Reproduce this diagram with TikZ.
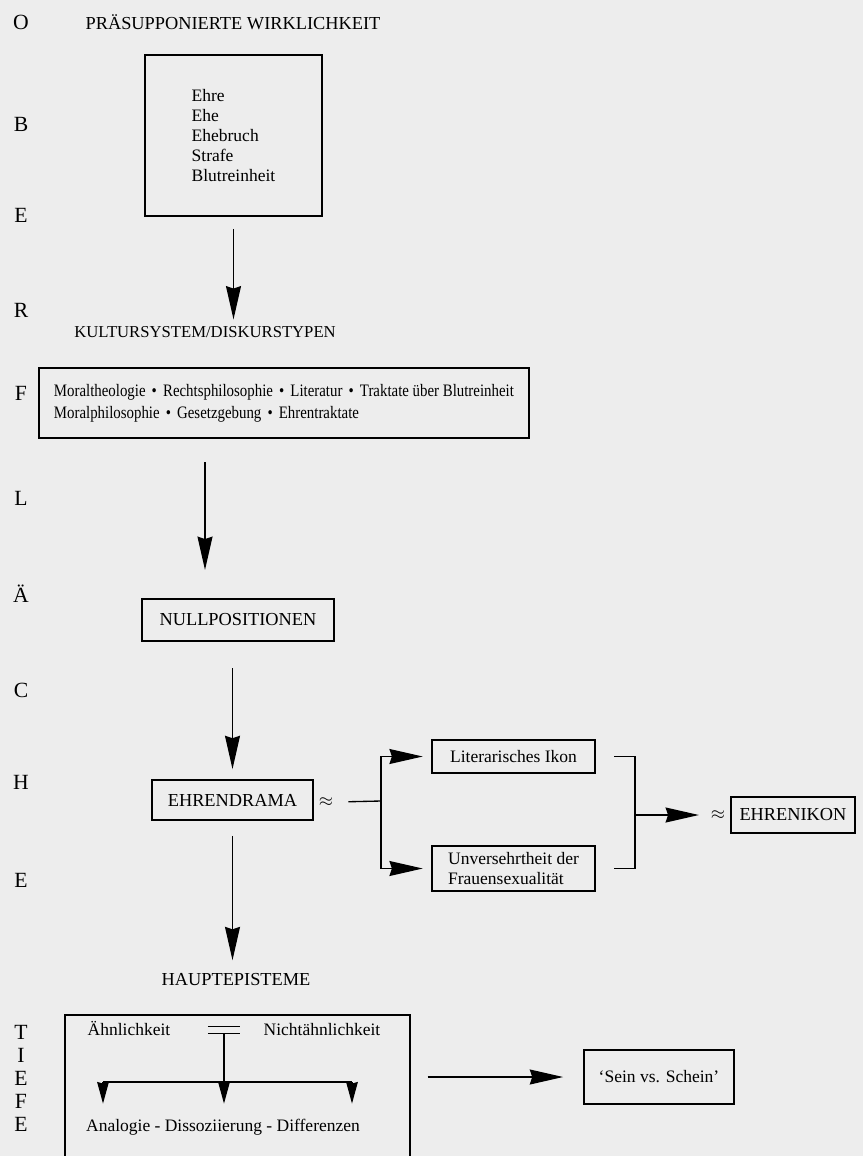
\documentclass[tikz,border=0pt]{standalone}
\usepackage{fontspec}
\setmainfont{Liberation Serif}
\newfontfamily\narrowfont[FakeStretch=0.85]{Liberation Serif}
\usetikzlibrary{arrows.meta, positioning}

\definecolor{paper}{gray}{0.93}
\newcommand{\sepdot}{\hspace{0.35em}•\hspace{0.35em}}

\begin{document}
\begin{tikzpicture}[x=0.6pt, y=-0.6pt,
        every node/.style={font=\fontsize{10.5}{12}\selectfont, inner sep=2pt},
        box/.style={rectangle, draw, line width=1.1pt, inner sep=3pt},
        side/.style={font=\fontsize{13}{13.8}\selectfont},
        caps/.style={font=\fontsize{11}{13}\selectfont},
        line/.style={draw, line width=0.8pt},
        arr/.style={line, -{Stealth[length=20pt, width=9pt, inset=1.5pt]}},
        arrs/.style={line, -{Stealth[length=13pt, width=7pt, inset=1pt]}, shorten >=7pt}]

        \fill[paper] (0,0) rectangle (863,1156);
        \useasboundingbox (0,0) rectangle (863,1156);

        % Oberflaeche / Tiefe
        \node [side] (lO) at (21,22) {O};
        \node [side] (lB) at (21,124) {B};
        \node [side] (lE) at (21,215) {E};
        \node [side] (lR) at (21,310) {R};
        \node [side] (lF) at (21,393) {F};
        \node [side] (lL) at (21,498) {L};
        \node [side] (lAe) at (21,594) {Ä};
        \node [side] (lC) at (21,690) {C};
        \node [side] (lH) at (21,782) {H};
        \node [side] (lE2) at (21,880) {E};
        \node [side, align=center] (tiefe) at (21,1078) {T\\I\\E\\F\\E};

        \node [caps] (wirk) at (233,22) {PRÄSUPPONIERTE WIRKLICHKEIT};
        \node [box, minimum width=106pt, minimum height=97pt, align=left] (ehre) at (233.5,135.5)
            {Ehre\\Ehe\\Ehebruch\\Strafe\\Blutreinheit};

        \node [caps, font=\fontsize{10}{13}\selectfont] (kultur) at (205,332) {KULTURSYSTEM/DISKURSTYPEN};
        \node [box, anchor=west, inner xsep=9pt, minimum height=42pt,
            align=left, font=\narrowfont\fontsize{10.5}{13.2}\selectfont] (diskurs) at (38,403)
            {Moraltheologie\sepdot Rechtsphilosophie\sepdot Literatur\sepdot Traktate über Blutreinheit\\
             Moralphilosophie\sepdot Gesetzgebung\sepdot Ehrentraktate};

        \node [box, caps, minimum width=115pt, minimum height=25pt] (nullpos) at (238,620) {NULLPOSITIONEN};
        \node [box, caps, minimum width=96.6pt, minimum height=24pt] (drama) at (232.5,800) {EHRENDRAMA};
        \node (approx1) at (326,802) {$\approx$};
        \node [box, minimum width=97.8pt, minimum height=19.8pt] (ikon) at (513.5,756.5) {Literarisches Ikon};
        \node [box, minimum width=97.8pt, minimum height=27pt, align=left,
            font=\fontsize{10.5}{11.5}\selectfont] (unvers) at (513.5,868.5)
            {Unversehrtheit der\\Frauensexualität};
        \node [inner sep=1pt] (approx2) at (718,815) {$\approx$};
        \node [box, caps, minimum width=74.4pt, minimum height=21.6pt] (ikon2) at (793,815) {EHRENIKON};

        \node [caps] (haupt) at (236,980) {HAUPTEPISTEME};
        \node [box, minimum width=207pt, minimum height=93pt] (epi) at (237.5,1092.5) {};
        \node [anchor=base] (aehn) at (129,1035) {Ähnlichkeit};
        \node [minimum width=19pt, minimum height=3.6pt, inner sep=0pt] (eq) at (224,1030) {};
        \node [anchor=base] (nicht) at (322,1035) {Nichtähnlichkeit};
        \node (ana) at (223,1127) {Analogie - Dissoziierung - Differenzen};
        \node [box, minimum width=90pt, minimum height=32.4pt] (sein) at (659,1077) {`Sein vs. Schein'};

        \coordinate (fork) at (381,801);
        \coordinate (join) at (635,815);
        \coordinate (fl) at (103,1082);
        \coordinate (fr) at (352,1082);

        \path [arr, shorten <=7pt, shorten >=2pt] (ehre.south) -- (ehre.south |- kultur.north);
        \path [arr, shorten <=14pt, shorten >=17pt] (kultur |- diskurs.south) -- (kultur |- nullpos.north);
        \path [arr, shorten <=16pt, shorten >=6pt] (nullpos.south -| drama) -- (drama.north);
        \path [arr, shorten <=9pt, shorten >=6pt] (drama.south) -- (drama.south |- haupt.north);
        \path [line, shorten <=7pt] (approx1.east) -- (fork);
        \path [arr, shorten >=5pt] (fork) |- (ikon.west);
        \path [arr, shorten >=5pt] (fork) |- (unvers.west);
        \path [line] ([xshift=11pt]ikon.east) -| (join) |- ([xshift=11pt]unvers.east);
        \path [arr, shorten >=6pt] (join) -- (approx2.west);
        \path [line] (eq.north west) -- (eq.north east);
        \path [line] (eq.south west) -- (eq.south east);
        \path [arrs] (eq.south) -- (eq.south |- ana.north);
        \path [line] (fl) -- (fr);
        \path [arrs] (fl) -- (fl |- ana.north);
        \path [arrs] (fr) -- (fr |- ana.north);
        \path [arr, shorten <=10pt, shorten >=12pt] (epi.east |- sein.west) -- (sein.west);

    \end{tikzpicture}
\end{document}
